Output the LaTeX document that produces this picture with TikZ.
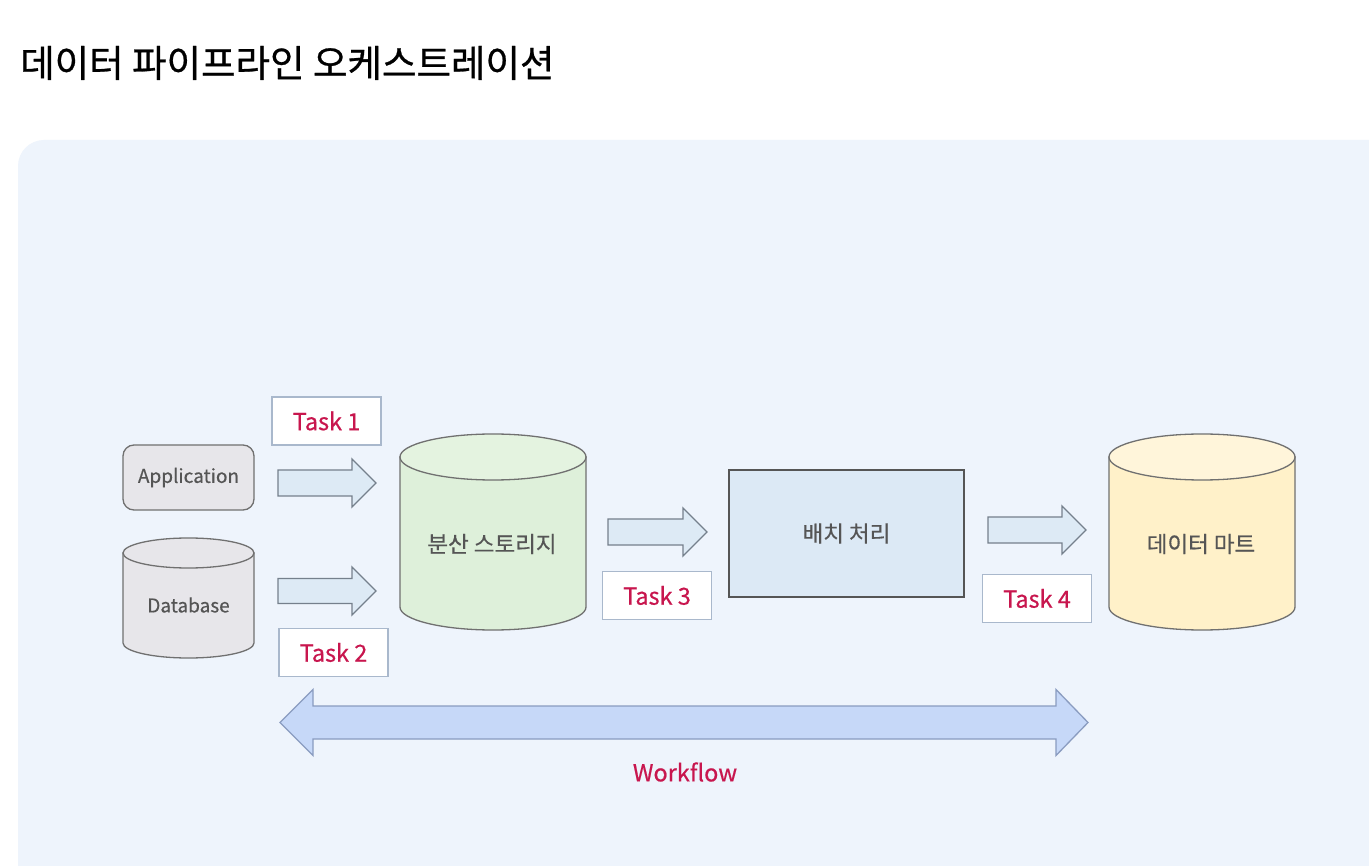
\documentclass[tikz,border=0pt]{standalone}
\usepackage{fontspec}
\newfontfamily\kr{Noto Sans CJK KR}
\newfontfamily\krm[FakeBold=0.5]{Noto Sans CJK KR}
\newfontfamily\krt[FakeBold=0.7]{Noto Sans CJK KR}
\definecolor{panel}{HTML}{EEF4FC}
\definecolor{graybox}{HTML}{E7E6EA}
\definecolor{boxborder}{HTML}{707070}
\definecolor{taskborder}{HTML}{A9B8CC}
\definecolor{crimson}{HTML}{C8164E}
\definecolor{labelgray}{HTML}{555555}
\definecolor{arrowfill}{HTML}{DDEAF5}
\definecolor{arrowborder}{HTML}{75808C}
\definecolor{greenbody}{HTML}{DEF0DA}
\definecolor{greentop}{HTML}{E4F3E0}
\definecolor{yellowbody}{HTML}{FFF1C9}
\definecolor{yellowtop}{HTML}{FFF5DA}
\definecolor{batchfill}{HTML}{DCE9F5}
\definecolor{batchborder}{HTML}{555555}
\definecolor{wffill}{HTML}{C6D8F8}
\definecolor{wfborder}{HTML}{8A9CC0}
% cylinder: cx, rx, ytop, ybot, ry, body fill, top fill
\newcommand\cylshape[7]{%
  \filldraw[fill=#6, draw=boxborder, line width=1.3pt]
    ({#1-#2},{-(#3+#5)}) -- ({#1-#2},{-(#4-#5)})
    arc[start angle=180,end angle=360,x radius=#2pt,y radius=#5pt]
    -- ({#1+#2},{-(#3+#5)}) -- cycle;
  \filldraw[fill=#7, draw=boxborder, line width=1.3pt]
    (#1,{-(#3+#5)}) ellipse[x radius=#2pt,y radius=#5pt];}
% block arrow: xstart, xheadbase, xtip, ycenter, half shaft, half head
\newcommand\barrowshape[6]{%
  \draw[barrow] (#1,{-#4+#5}) -- (#2,{-#4+#5}) -- (#2,{-#4+#6}) -- (#3,-#4)
    -- (#2,{-#4-#6}) -- (#2,{-#4-#5}) -- (#1,{-#4-#5}) -- cycle;}
\begin{document}
\begin{tikzpicture}[x=1pt,y=1pt,
  lbl/.style={font=\krm\fontsize{22.5}{26}\selectfont, text=labelgray, inner sep=0pt},
  latinlbl/.style={font=\krm\fontsize{19}{23}\selectfont, text=labelgray, inner sep=0pt},
  task/.style={draw=taskborder, fill=white, line width=1.2pt, minimum width=109pt,
    minimum height=48pt, inner sep=0pt, font=\krm\fontsize{23.5}{27}\selectfont, text=crimson},
  barrow/.style={draw=arrowborder, fill=arrowfill, line width=1.3pt, line join=miter},
]
\useasboundingbox (0,0) rectangle (1369,-866);
\fill[white] (0,0) rectangle (1369,-866);
\begin{scope}
  \clip (0,0) rectangle (1369,-866);
  \fill[panel, rounded corners=26pt] (18,-140) rectangle (1420,-920);
\end{scope}

\node[anchor=base west, font=\krt\fontsize{37.5}{44}\selectfont, text=black, inner sep=0pt]
  (title) at (20,-77) {데이터 파이프라인 오케스트레이션};

% sources
\node[draw=boxborder, fill=graybox, rounded corners=11pt, line width=1.3pt,
  minimum width=131pt, minimum height=65pt, inner sep=0pt, latinlbl] (app) at (188.5,-477.5) {Application};
\cylshape{188.5}{65.5}{538}{658}{15}{graybox}{graybox}
\node[latinlbl] (db) at (188.5,-605) {Database};

% storage
\cylshape{493}{93}{434}{630}{23}{greenbody}{greentop}
\node[lbl] (storage) at (492,-544) {분산 스토리지};

% batch
\node[draw=batchborder, fill=batchfill, line width=1.3pt, minimum width=235pt,
  minimum height=127pt, inner sep=0pt, lbl] (batch) at (846.5,-533.5) {배치 처리};

% data mart
\cylshape{1202}{93}{434}{630}{23}{yellowbody}{yellowtop}
\node[lbl] (mart) at (1201,-544) {데이터 마트};

% block arrows
\barrowshape{278}{352}{376}{483}{13}{24}
\barrowshape{278}{352}{376}{591}{12.5}{24}
\barrowshape{608}{683}{707}{532}{13}{24}
\barrowshape{988}{1062}{1086}{530}{13}{24}

% tasks
\node[task] (t1) at (326.5,-421) {Task 1};
\node[task] (t2) at (333.5,-652.5) {Task 2};
\node[task] (t3) at (657,-595.5) {Task 3};
\node[task] (t4) at (1037,-598.5) {Task 4};

% workflow
\draw[fill=wffill, draw=wfborder, line width=1.3pt, line join=miter]
  (280,-722.5) -- (313,-689.5) -- (313,-706) -- (1056,-706) -- (1056,-689.5)
  -- (1088,-722.5) -- (1056,-755.5) -- (1056,-739) -- (313,-739) -- (313,-755.5) -- cycle;
\node[font=\krm\fontsize{23.5}{27}\selectfont, text=crimson, inner sep=0pt] (wf) at (685,-772) {Workflow};
\end{tikzpicture}
\end{document}
